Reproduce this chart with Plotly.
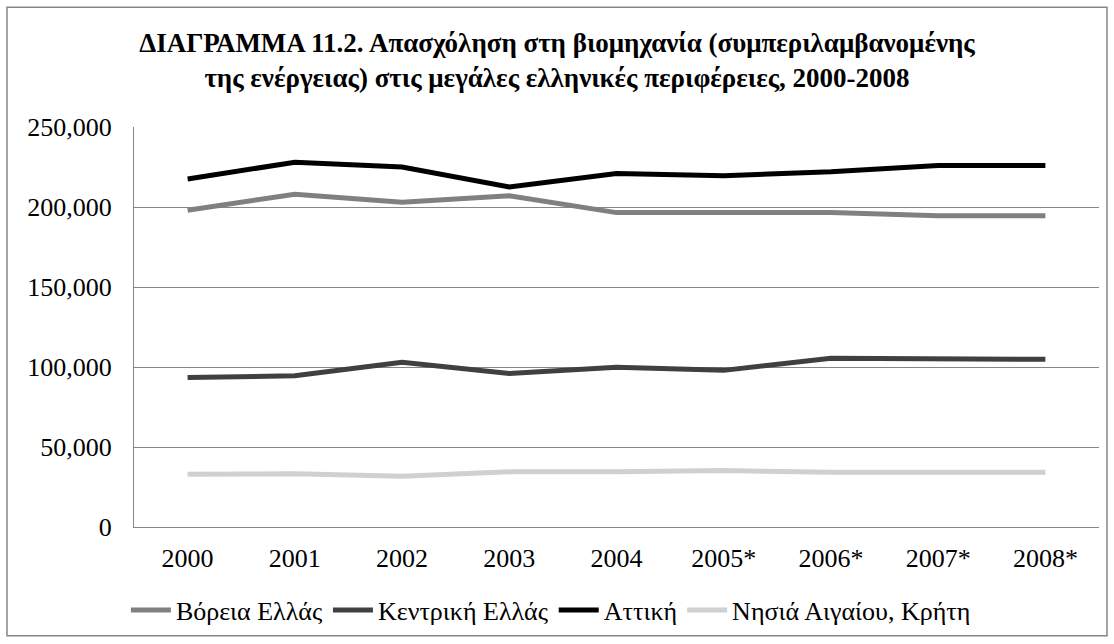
import plotly.graph_objects as go

years = ["2000", "2001", "2002", "2003", "2004", "2005*", "2006*", "2007*", "2008*"]
voreia = [198000, 208000, 203000, 207000, 196500, 196500, 196500, 194500, 194500]
kentriki = [93500, 94500, 103000, 96000, 99800, 97900, 105500, 104800, 104800]
attiki = [217500, 228000, 225000, 212500, 221000, 219500, 222000, 226000, 226000]
nisia = [33000, 33300, 31700, 34500, 34500, 35300, 34200, 34200, 34200]

series_names = ["Βόρεια Ελλάς", "Κεντρική Ελλάς", "Αττική", "Νησιά Αιγαίου, Κρήτη"]
series_values = [voreia, kentriki, attiki, nisia]
series_colors = ["#808080", "#404040", "#000000", "#d0d0d0"]

title_text = ("<b>ΔΙΑΓΡΑΜΜΑ 11.2. Απασχόληση στη βιομηχανία (συμπεριλαμβανομένης<br>"
              "της ενέργειας) στις μεγάλες ελληνικές περιφέρειες, 2000-2008</b>")

FONT = "Liberation Serif, Times New Roman, serif"

fig = go.Figure()
for name, vals, col in zip(series_names, series_values, series_colors):
    fig.add_trace(go.Scatter(
        x=years, y=vals, name=name, mode="lines",
        line=dict(color=col, width=5),
    ))

fig.update_layout(
    width=1114, height=644,
    margin=dict(l=134, r=15, t=127, b=116),
    paper_bgcolor="white", plot_bgcolor="white",
    font=dict(family=FONT, size=26, color="black"),
    title=dict(text=title_text, x=0.5, xanchor="center", xref="container",
               y=(644 - 52) / 644, yanchor="middle", yref="container",
               font=dict(family=FONT, size=27, color="black")),
    showlegend=True,
    legend=dict(orientation="h", x=0.432, xanchor="center", y=-0.205, yanchor="middle",
                font=dict(family=FONT, size=26), traceorder="normal",
                itemwidth=40, bgcolor="rgba(0,0,0,0)"),
    xaxis=dict(type="category", range=[-0.5, 8.5], showgrid=False, showline=True,
               linecolor="#868686", linewidth=1, ticks="", ticklabelstandoff=8,
               tickfont=dict(family=FONT, size=26)),
    yaxis=dict(range=[0, 250000], tickvals=[0, 50000, 100000, 150000, 200000, 250000],
               tickformat=",", showgrid=True, gridcolor="#868686", gridwidth=1,
               showline=True, linecolor="#868686", linewidth=1, zeroline=False,
               ticks="", ticklabelstandoff=16, tickfont=dict(family=FONT, size=26)),
    shapes=[dict(type="rect", xref="paper", yref="paper",
                 x0=(7 - 134) / 965, x1=(1107 - 134) / 965,
                 y0=(528 - 637) / 401, y1=(528 - 7) / 401,
                 line=dict(color="#868686", width=1.5), fillcolor="rgba(0,0,0,0)",
                 layer="below")],
)

fig.write_html("out.html", config={"displayModeBar": False},
               post_script="document.body.style.margin='0';")
